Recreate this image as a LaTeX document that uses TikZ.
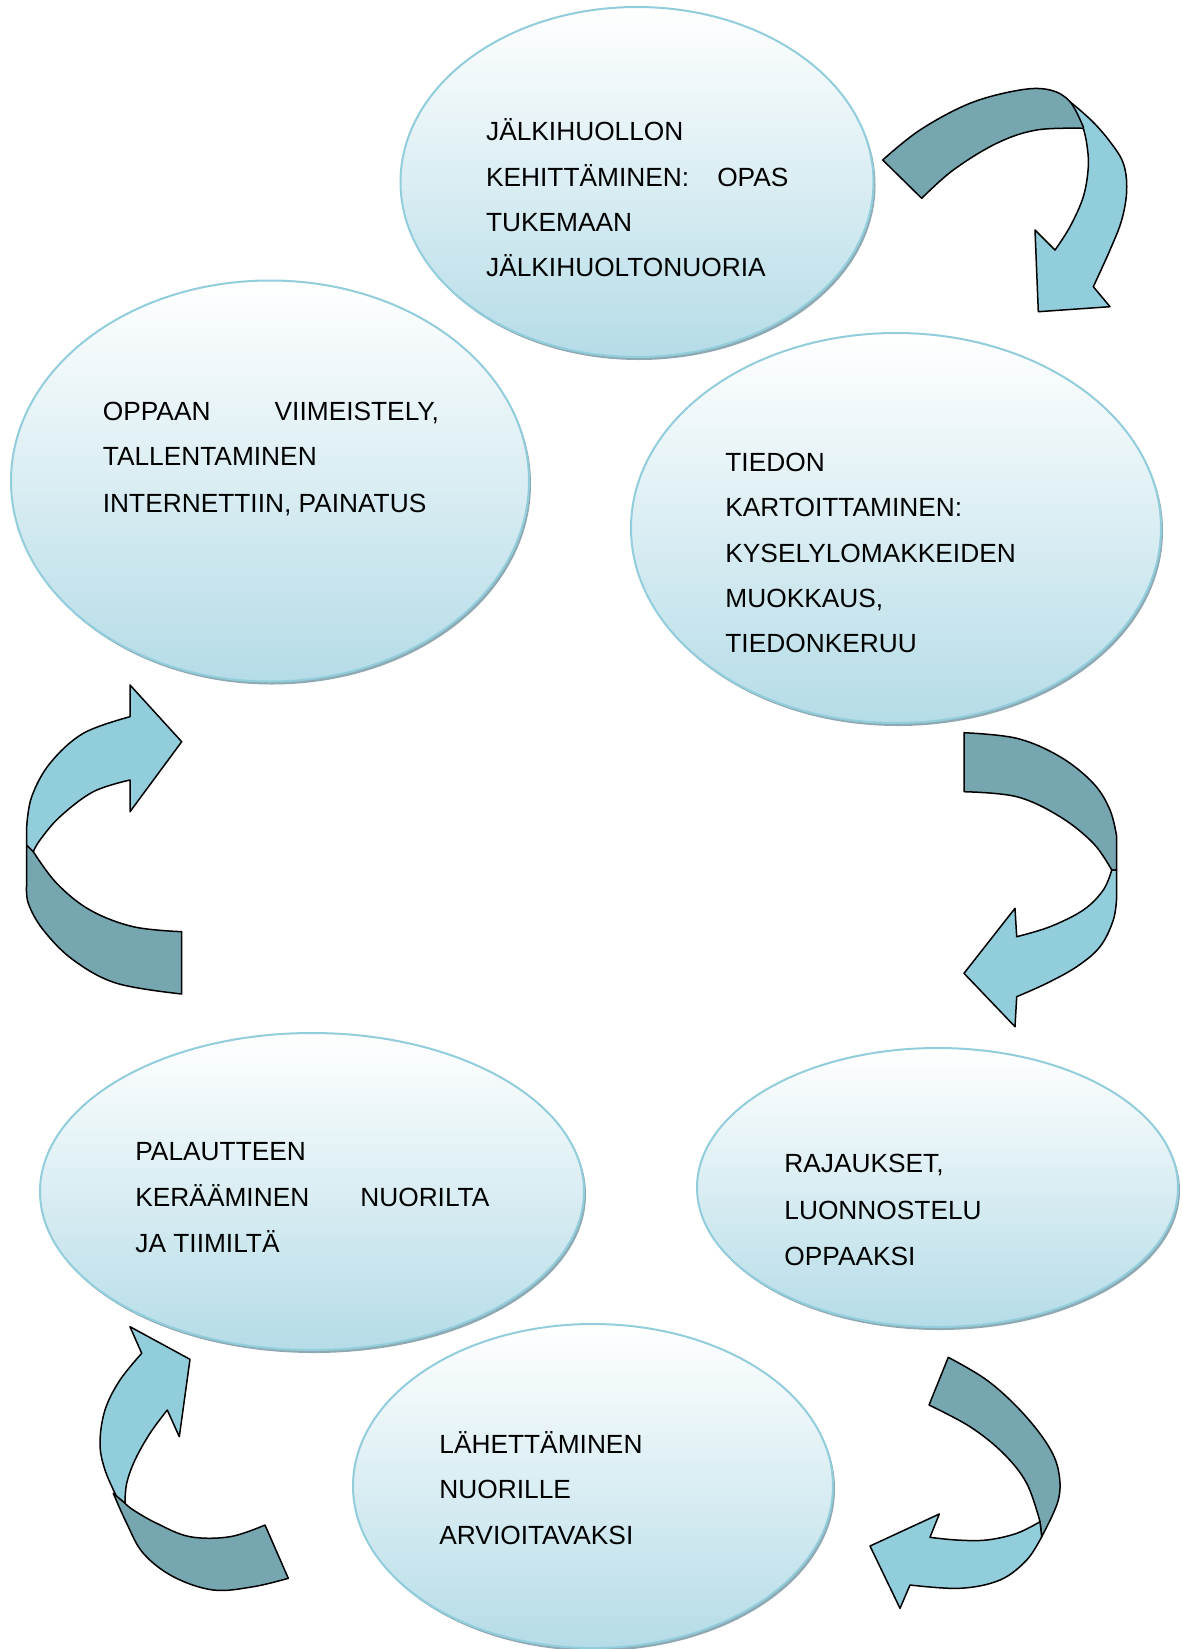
\documentclass[tikz,border=0pt]{standalone}
\usepackage{fontspec}
\setmainfont{Liberation Sans}
\usetikzlibrary{shapes.geometric}
\definecolor{ebot}{HTML}{B5DCE7}
\definecolor{eborder}{HTML}{92CDDC}
\definecolor{eshadow}{HTML}{8FA9B3}
\definecolor{alight}{HTML}{92CDDC}
\definecolor{adark}{HTML}{76A6B0}
\begin{document}
\begin{tikzpicture}[x=0.5pt,y=-0.5pt,
 bubble/.style={ellipse, draw=eborder, line width=1pt, top color=white, bottom color=ebot, inner sep=0pt},
 shadowell/.style={ellipse, fill=eshadow, draw=none, inner sep=0pt},
 lblbig/.style={anchor=base west, inner sep=0pt, font=\fontsize{13.15pt}{15pt}\selectfont},
 lightpart/.style={fill=alight, draw=black, line width=0.75pt, line join=round},
 darkpart/.style={fill=adark, draw=black, line width=0.75pt, line join=round}]
\useasboundingbox (0,0) rectangle (1183,1649);
\fill[white] (0,0) rectangle (1183,1649);

% ---------- ellipses ----------
\node[shadowell, minimum width=236.5pt, minimum height=175pt] (s1) at (639,185) {};
\node[bubble, minimum width=236.5pt, minimum height=175pt] (e1) at (637,182) {};
\node[shadowell, minimum width=259pt, minimum height=200.5pt] (s2) at (272,484) {};
\node[bubble, minimum width=259pt, minimum height=200.5pt] (e2) at (270,481) {};
\node[shadowell, minimum width=265pt, minimum height=195pt] (s3) at (898,531) {};
\node[bubble, minimum width=265pt, minimum height=195pt] (e3) at (896,528) {};
\node[shadowell, minimum width=272pt, minimum height=158.5pt] (s4) at (314,1194.5) {};
\node[bubble, minimum width=272pt, minimum height=158.5pt] (e4) at (312,1191.5) {};
\node[shadowell, minimum width=240.5pt, minimum height=139.5pt] (s5) at (939.5,1190.5) {};
\node[bubble, minimum width=240.5pt, minimum height=139.5pt] (e5) at (937.5,1187.5) {};
\node[shadowell, minimum width=240pt, minimum height=162pt] (s6) at (595,1489) {};
\node[bubble, minimum width=240pt, minimum height=162pt] (e6) at (593,1486) {};

% ---------- texts ----------
\node[lblbig] (t1a) at (485.7,140.1) {JÄLKIHUOLLON};
\node[lblbig] (t1b) at (485.7,186.1) {\hbox to 151.15pt{KEHITTÄMINEN:\hfill OPAS}};
\node[lblbig] (t1c) at (485.7,231.1) {TUKEMAAN};
\node[lblbig] (t1d) at (485.7,276.1) {JÄLKIHUOLTONUORIA};

\node[lblbig] (t2a) at (102.5,420.5) {\hbox to 168pt{OPPAAN\hfill VIIMEISTELY,}};
\node[lblbig] (t2b) at (102.5,465.5) {TALLENTAMINEN};
\node[lblbig] (t2c) at (102.5,512.1) {INTERNETTIIN, PAINATUS};

\node[lblbig] (t3a) at (725,471.1) {TIEDON};
\node[lblbig] (t3b) at (725,516.7) {KARTOITTAMINEN:};
\node[lblbig] (t3c) at (725,562.1) {KYSELYLOMAKKEIDEN};
\node[lblbig] (t3d) at (725,607.7) {MUOKKAUS,};
\node[lblbig] (t3e) at (725,652.7) {TIEDONKERUU};

\node[lblbig] (t4a) at (135,1160.5) {PALAUTTEEN};
\node[lblbig] (t4b) at (135,1206.5) {\hbox to 177pt{KERÄÄMINEN\hfill NUORILTA}};
\node[lblbig] (t4c) at (135,1252.5) {JA TIIMILTÄ};

\node[lblbig] (t5a) at (784,1172.7) {RAJAUKSET,};
\node[lblbig] (t5b) at (784,1219.4) {LUONNOSTELU};
\node[lblbig] (t5c) at (784,1265.4) {OPPAAKSI};

\node[lblbig] (t6a) at (439,1453.4) {LÄHETTÄMINEN};
\node[lblbig] (t6b) at (439,1498.7) {NUORILLE};
\node[lblbig] (t6c) at (439,1544.4) {ARVIOITAVAKSI};

% ---------- arrow 1 (top right) ----------
\draw[lightpart] plot[smooth, tension=0.6] coordinates {(1070,101.7) (1092,121) (1110,141.7) (1123.3,163.3) (1126.7,190) (1121.7,220) (1110,250) (1093.3,286.7)}
  -- (1110,306.7) -- (1038.3,311.7) -- (1035,230)
  -- plot[smooth, tension=0.6] coordinates {(1055,250) (1070,226.7) (1083.3,196.7) (1088.3,166.7) (1086.7,143.3) (1083.3,128.3)} -- cycle;
\draw[darkpart] plot[smooth, tension=0.6] coordinates {(882.7,160) (920,130) (970,103.3) (1020,90) (1050,90) (1070,101.7) (1083.3,127)}
  -- plot[smooth, tension=0.6] coordinates {(1083.3,128.3) (1036.7,130) (996.7,143.3) (953.3,170) (921.7,198.3)} -- cycle;

% ---------- arrow 2 (right middle) ----------
\draw[darkpart] plot[smooth, tension=0.6] coordinates {(964,732.7) (1016.7,738.3) (1060,756.7) (1093.3,783.3) (1110,810) (1116.7,836.7)}
  -- (1116.7,870) -- (1111.7,870)
  -- plot[smooth, tension=0.6] coordinates {(1111.7,870) (1093.3,843.3) (1060,816.7) (1016.7,796.7) (964,791.7)} -- cycle;
\draw[lightpart] (1111.7,870) -- (1116.7,870)
  -- plot[smooth, tension=0.6] coordinates {(1116.7,896.7) (1113.3,920) (1100,946.7) (1076.7,966.7) (1046.7,983.3) (1016.7,996.7)}
  -- (1015,1026.7) -- (964,973.3) -- (1015,908.3)
  -- plot[smooth, tension=0.6] coordinates {(1016.7,936.7) (1050,926.7) (1083.3,910) (1103.3,890) (1111.7,870)} -- cycle;

% ---------- arrow 3 (left middle) ----------
\draw[darkpart] (33.3,851.7) -- (26.7,845)
  -- plot[smooth, tension=0.6] coordinates {(26.7,883.3) (28.3,903.3) (43.3,930) (73.3,960) (116.7,983.3) (181.7,994)}
  -- (181.7,931.7)
  -- plot[smooth, tension=0.6] coordinates {(181.7,931.7) (133.3,926.7) (90,910) (56.7,883.3) (33.3,851.7)} -- cycle;
\draw[lightpart] (130,716.7) -- (130,685) -- (181.7,741.7) -- (130,811.7) -- (130,780)
  -- plot[smooth, tension=0.6] coordinates {(130,780) (93.3,791.7) (60,816.7) (40,840) (33.3,851.7)}
  -- (26.7,845)
  -- plot[smooth, tension=0.6] coordinates {(26.7,826.7) (31.7,796.7) (50,763.3) (83.3,733.3) (130,716.7)} -- cycle;

% ---------- arrow 4 (bottom right) ----------
\draw[darkpart] plot[smooth, tension=0.6] coordinates {(948.3,1357.3) (986.7,1380) (1020,1410) (1046.7,1443.3) (1058.3,1470) (1058.3,1500) (1041.7,1536.7)}
  -- (1040,1521.7)
  -- plot[smooth, tension=0.6] coordinates {(1040,1521.7) (1026.7,1483.3) (1003.3,1453.3) (970,1426.7) (929,1405)} -- cycle;
\draw[lightpart] plot[smooth, tension=0.6] coordinates {(1040,1521.7) (1016.7,1533.3) (986.7,1540) (956.7,1540) (930,1537.3)}
  -- (939.3,1514) -- (870,1546) -- (900,1608.3) -- (910,1585)
  -- plot[smooth, tension=0.6] coordinates {(910,1585) (960,1588.3) (1000,1580) (1026.7,1560) (1041.7,1536.7)} -- cycle;

% ---------- arrow 5 (bottom left) ----------
\draw[lightpart] (141.7,1353.3) -- (130,1326.7) -- (190,1359.3) -- (179.3,1436.7) -- (167.3,1410)
  -- plot[smooth, tension=0.6] coordinates {(167.3,1410) (150,1433.3) (135,1460) (126.7,1483.3) (125,1503.3)}
  -- plot[smooth, tension=0.6] coordinates {(116.7,1496.7) (105,1470) (100,1443.3) (105,1410) (120,1380) (141.7,1353.3)} -- cycle;
\draw[darkpart] plot[smooth, tension=0.6] coordinates {(113.3,1493.3) (126.7,1523.3) (143.3,1553.3) (173.3,1576.7) (213.3,1590) (253.3,1586.7) (288.3,1578.3)}
  -- (265,1525)
  -- plot[smooth, tension=0.6] coordinates {(265,1525) (230,1536.7) (190,1536.7) (156.7,1523.3) (133.3,1510) (125,1503.3)} -- cycle;
\end{tikzpicture}
\end{document}
